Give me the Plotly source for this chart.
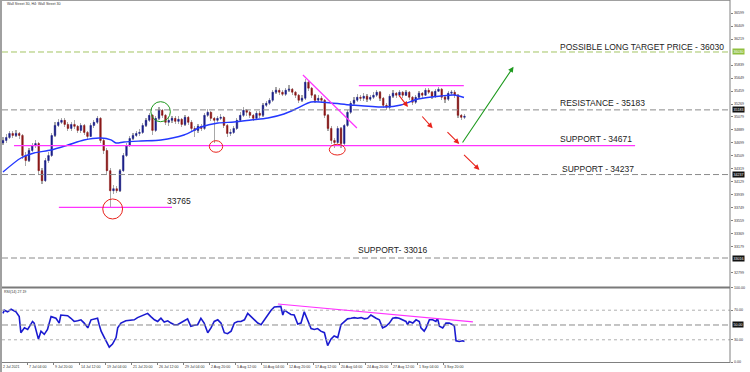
import plotly.graph_objects as go

# ---------------- data ----------------
title_text = "Wall Street 30, H4: Wall Street 30"
rsi_label = "RSI(14) 27.19"

opens = [34700,34736,34780,34839,34809,34839,34809,34515,34441,34589,
         34662,34691,34294,34147,34441,34515,34809,34956,35001,35030,
         34971,34912,34971,34942,34883,34956,34853,34795,34956,35001,
         35059,34736,34589,34294,34000,34030,34000,34294,34515,34662,
         34765,34809,34839,34853,34956,35030,35103,34883,35059,35177,
         35103,35001,35030,35059,35015,35045,34971,35074,35001,34912,
         34883,34942,34912,35103,35148,35059,35030,35059,35074,34956,
         34839,34853,34912,35030,35103,35177,35148,35103,35059,35133,
         35103,35250,35280,35324,35442,35471,35442,35412,35471,35486,
         35442,35398,35324,35353,35589,35501,35398,35324,35353,35324,
         35103,34912,34736,34706,34912,34691,34956,35148,35280,35324,
         35368,35353,35383,35339,35368,35398,35442,35353,35250,35221,
         35383,35427,35398,35442,35398,35442,35368,35295,35368,35427,
         35398,35471,35442,35383,35456,35486,35368,35339,35427,35442,
         35398,35103,35074]
highs = [34790,34830,34880,34870,34890,34860,34830,34560,34620,34700,
         34740,34720,34330,34480,34560,34840,35000,35050,35070,35060,
         35000,35010,35040,34960,34990,34980,34880,34990,35040,35090,
         35074,34760,34620,34330,34080,34070,34320,34550,34700,34800,
         34850,34880,34900,34990,35070,35140,35120,35090,35221,35200,
         35130,35080,35100,35090,35090,35070,35110,35100,35030,34950,
         34980,34970,35140,35190,35170,35080,35100,35120,35090,34980,
         34900,34950,35060,35150,35230,35200,35170,35130,35170,35160,
         35290,35320,35360,35480,35520,35500,35470,35510,35540,35510,
         35460,35420,35400,35633,35610,35520,35420,35400,35380,35340,
         35130,34940,34770,34950,34930,34980,35180,35320,35370,35410,
         35400,35430,35410,35400,35440,35480,35460,35370,35280,35420,
         35470,35450,35480,35460,35480,35460,35390,35400,35460,35450,
         35510,35500,35460,35490,35520,35500,35400,35460,35480,35470,
         35410,35130,35120]
lows = [34670,34700,34760,34770,34780,34760,34470,34368,34420,34560,
        34630,34250,34100,34130,34400,34490,34790,34930,34970,34930,
        34870,34880,34900,34840,34850,34810,34760,34780,34920,34980,
        34700,34540,34250,33750,33950,33960,33980,34270,34490,34640,
        34740,34780,34800,34830,34930,35000,34809,34860,35030,35060,
        34960,34950,34990,34970,34980,34930,34950,34960,34870,34790,
        34850,34870,34890,35080,35020,34700,35000,35030,34920,34790,
        34800,34830,34890,35000,35080,35100,35060,35020,35040,35070,
        35080,35220,35260,35300,35420,35400,35380,35390,35440,35400,
        35360,35280,35300,35330,35460,35360,35280,35300,35280,35060,
        34870,34690,34620,34680,34620,34670,34930,35120,35250,35300,
        35310,35320,35300,35310,35340,35370,35310,35210,35180,35200,
        35360,35360,35370,35360,35380,35330,35250,35270,35340,35360,
        35380,35410,35340,35360,35440,35330,35290,35320,35400,35360,
        35060,35040,35050]
closes = [34736,34780,34839,34809,34839,34809,34515,34441,34589,34662,
          34691,34294,34147,34441,34515,34809,34956,35001,35030,34971,
          34912,34971,34942,34883,34956,34853,34795,34956,35001,35059,
          34736,34589,34294,34000,34030,34000,34294,34515,34662,34765,
          34809,34839,34853,34956,35030,35103,34883,35059,35177,35103,
          35001,35030,35059,35015,35045,34971,35074,35001,34912,34883,
          34942,34912,35103,35148,35059,35030,35059,35074,34956,34839,
          34853,34912,35030,35103,35177,35148,35103,35059,35133,35103,
          35250,35280,35324,35442,35471,35442,35412,35471,35486,35442,
          35398,35324,35353,35589,35501,35398,35324,35353,35324,35103,
          34912,34736,34706,34912,34691,34956,35148,35280,35324,35368,
          35353,35383,35339,35368,35398,35442,35353,35250,35221,35383,
          35427,35398,35442,35398,35442,35368,35295,35368,35427,35398,
          35471,35442,35383,35456,35486,35368,35339,35427,35442,35398,
          35103,35074,35089]
bar_idx = list(range(len(closes)))

ma_x = [0, 5.54, 9.54, 14.77, 20, 24.92, 30.15, 33.23, 34.77, 37.23, 42.46, 48.62,
        55.69, 60.92, 66.15, 71.08, 76.31, 81.54, 86.46, 90.77, 94.77, 100.92,
        107.08, 117.23, 122.46, 127.69, 134.77, 138.77, 141.85]
ma_y = [34274, 34479, 34552, 34596, 34669, 34743, 34772, 34743, 34699, 34713, 34728, 34743,
        34816, 34933, 34991, 35006, 35035, 35065, 35123, 35211, 35299, 35284,
        35255, 35225, 35255, 35342, 35386, 35401, 35364]

rsi_x = [0, 0.4, 1.4, 2.5, 4.0, 5.0, 5.5, 6.6, 7.6, 9.1,
         9.6, 10.2, 10.9, 11.7, 12.7, 13.7, 14.8, 16.3, 17.3, 17.8,
         19.9, 20.9, 21.9, 23.0, 24.0, 25.0, 26.1, 27.1, 28.1, 29.1,
         29.6, 30.2, 31.2, 32.2, 32.7, 33.7, 34.8, 35.3, 35.8, 36.3,
         37.8, 39.4, 40.4, 41.4, 43.5, 44.5, 45.5, 46.6, 47.6, 48.6,
         49.6, 50.7, 51.7, 52.7, 53.7, 54.8, 55.8, 56.8, 57.8, 58.9,
         59.9, 60.9, 61.9, 63.0, 64.0, 65.0, 66.1, 67.1, 68.1, 69.1,
         70.2, 71.2, 72.2, 73.2, 74.3, 75.3, 76.3, 77.3, 78.4, 79.4,
         80.4, 81.4, 82.5, 83.5, 84.5, 85.5, 86.1, 86.6, 87.6, 88.6,
         89.6, 90.7, 91.7, 92.7, 93.7, 94.8, 95.8, 96.8, 97.8, 98.9,
         99.9, 100.4, 100.9, 101.9, 103.0, 104.0, 105.0, 106.0, 107.1, 108.1,
         109.1, 110.2, 111.2, 112.2, 113.2, 114.3, 114.8, 115.8, 116.8, 117.8,
         118.9, 119.9, 120.9, 121.9, 123.0, 124.0, 124.5, 125.0, 126.1, 127.1,
         128.1, 128.6, 129.6, 130.2, 131.2, 132.2, 133.2, 133.7, 134.3, 135.3,
         136.3, 137.3, 138.4, 138.9, 139.4, 140.4, 141.5, 142.0]
rsi_y = [65.7, 70.0, 67.8, 71.3, 67.8, 61.3, 39.6, 46.1, 43.9, 54.8,
         52.6, 43.9, 30.9, 41.7, 37.4, 43.9, 61.3, 59.1, 52.6, 63.5,
         62.6, 59.1, 54.8, 55.7, 57.0, 52.6, 46.1, 57.0, 58.3, 59.1,
         50.4, 41.7, 33.0, 24.3, 20.0, 24.3, 33.0, 46.1, 50.4, 52.6,
         55.7, 57.0, 57.0, 60.0, 63.5, 65.7, 61.3, 57.0, 54.8, 59.1,
         53.9, 55.7, 52.6, 50.4, 50.4, 52.6, 55.7, 58.3, 48.3, 49.6,
         50.4, 59.1, 52.6, 39.6, 46.1, 54.8, 57.0, 52.6, 39.6, 38.3,
         41.7, 52.6, 54.8, 54.8, 57.0, 65.7, 61.3, 57.0, 52.6, 50.4,
         57.0, 63.5, 70.0, 74.3, 74.3, 75.2, 63.5, 70.0, 67.0, 64.3,
         63.5, 51.3, 52.6, 67.8, 57.0, 45.2, 43.9, 45.2, 41.7, 39.6,
         22.2, 26.5, 30.9, 35.2, 33.0, 50.4, 54.8, 58.3, 59.1, 60.0,
         59.1, 60.0, 58.3, 59.1, 63.5, 60.0, 59.1, 57.0, 46.1, 48.3,
         52.6, 59.1, 60.0, 59.1, 57.0, 54.8, 50.4, 54.8, 52.6, 57.0,
         54.8, 46.1, 41.7, 46.1, 57.0, 57.0, 54.8, 59.1, 48.3, 46.1,
         52.6, 52.6, 50.4, 48.3, 28.7, 27.8, 28.7, 27.8]

date_labels = ["2 Jul 2021", "7 Jul 04:00", "9 Jul 20:00", "14 Jul 12:00", "19 Jul 04:00",
               "21 Jul 20:00", "26 Jul 12:00", "29 Jul 04:00", "2 Aug 20:00", "5 Aug 12:00",
               "10 Aug 04:00", "12 Aug 20:00", "17 Aug 12:00", "20 Aug 04:00", "24 Aug 20:00",
               "27 Aug 12:00", "1 Sep 04:00", "3 Sep 20:00"]

price_ticks = [36599, 36409, 36219, 35839, 35649, 35459, 35269, 35079, 34889, 34699,
               34509, 34319, 34129, 33939, 33749, 33559, 33369, 33179, 32799]
rsi_ticks = [100, 70, 30, 0]

target_level = 36030
resistance_level = 35183
support1_level = 34671
support2_level = 34237
support3_level = 33016
low_level = 33765
rsi_mid_level = 50

# ---------------- styling / geometry ----------------
W, H = 750, 372
ML, MR, MT, MB = 2, 20, 1, 10
def px(x):
    return (x - ML) / (W - ML - MR)
def py(y):
    return (H - MB - y) / (H - MT - MB)

XR = [-0.3, 223.7]
UP = "#1c2088"
DN = "#8a1818"
WICK = "#a8a8a8"
MAG = "#ff33ff"
RED = "#e8231c"
GRN = "#1f9a1f"
GRAY = "#8a8a8a"
TXT = "#222222"
FONT = "Liberation Sans, Arial, sans-serif"
SMALL = 3.6

fig = go.Figure()

# wicks
fig.add_trace(go.Bar(
    x=bar_idx, y=[h - l for h, l in zip(highs, lows)], base=lows, width=0.32,
    marker=dict(color=WICK, line=dict(width=0)), xaxis="x", yaxis="y", hoverinfo="skip"))
# bodies
fig.add_trace(go.Candlestick(
    x=bar_idx, open=opens, close=closes,
    high=[max(o, c) for o, c in zip(opens, closes)],
    low=[min(o, c) for o, c in zip(opens, closes)],
    increasing=dict(line=dict(color=UP, width=0.5), fillcolor=UP),
    decreasing=dict(line=dict(color=DN, width=0.5), fillcolor=DN),
    whiskerwidth=0, xaxis="x", yaxis="y", hoverinfo="skip"))
# moving average
fig.add_trace(go.Scatter(
    x=ma_x, y=ma_y, mode="lines", line=dict(color="#2438ff", width=1.4, shape="spline", smoothing=0.8),
    xaxis="x", yaxis="y", hoverinfo="skip"))
# RSI
fig.add_trace(go.Scatter(
    x=rsi_x, y=rsi_y, mode="lines", line=dict(color="#1a1ad0", width=1.6),
    xaxis="x2", yaxis="y2", hoverinfo="skip"))

shapes = []
def hline(level, color, dash, width=1, yref="y", x0=0, x1=1, xref="paper"):
    shapes.append(dict(type="line", xref=xref, yref=yref, x0=x0, x1=x1, y0=level, y1=level,
                       line=dict(color=color, width=width, dash=dash)))

hline(target_level, "#a3c464", "6px,3px")
hline(resistance_level, GRAY, "6px,3px")
hline(support2_level, GRAY, "6px,3px")
hline(support3_level, GRAY, "6px,3px")
hline(34660, MAG, "solid", 1.3, xref="x", x0=3.4, x1=194.5)
hline(33758, MAG, "solid", 1.3, xref="x", x0=17.2, x1=52.0)
hline(35537, MAG, "solid", 1.3, xref="x", x0=109.5, x1=141.8)
# diagonal trend line
shapes.append(dict(type="line", xref="x", yref="y", x0=92.3, y0=35694, x1=108.9, y1=34918,
                   line=dict(color=MAG, width=1.2)))
# RSI levels
hline(70, "#b0b0b0", "dot", 1, yref="y2")
hline(30, "#b0b0b0", "dot", 1, yref="y2")
hline(rsi_mid_level, GRAY, "6px,3px", 1, yref="y2")
shapes.append(dict(type="line", xref="x2", yref="y2", x0=84.6, y0=78.4, x1=144.6, y1=54.1,
                   line=dict(color=MAG, width=1.2)))

# circles
def circ(x0, x1, y0, y1, color):
    shapes.append(dict(type="circle", xref="x", yref="y", x0=x0, x1=x1, y0=y0, y1=y1,
                       line=dict(color=color, width=1)))
circ(45.5, 51.5, 35010, 35303, GRN)
circ(30.7, 36.8, 33587, 33880, RED)
circ(63.5, 67.6, 34563, 34732, RED)
circ(100.4, 105.3, 34523, 34680, RED)

# frame
shapes.append(dict(type="rect", xref="paper", yref="paper", x0=px(0), x1=px(2), y0=py(372), y1=py(0),
                   fillcolor="#a0a0a0", line=dict(width=0)))
shapes.append(dict(type="line", xref="paper", yref="paper", x0=px(2), x1=px(730), y0=py(0.5), y1=py(0.5),
                   line=dict(color="#a0a0a0", width=1)))
shapes.append(dict(type="line", xref="paper", yref="paper", x0=px(730), x1=px(730), y0=py(0), y1=py(363),
                   line=dict(color="#808080", width=1)))
shapes.append(dict(type="line", xref="paper", yref="paper", x0=px(2), x1=px(730), y0=py(287.5), y1=py(287.5),
                   line=dict(color="#7a7a7a", width=2)))
shapes.append(dict(type="line", xref="paper", yref="paper", x0=px(2), x1=px(730), y0=py(362.5), y1=py(362.5),
                   line=dict(color="#808080", width=1)))

annotations = []
def text(x, y, s, size=8.5):
    annotations.append(dict(x=x, y=y, xref="x", yref="y", text=s, showarrow=False, xanchor="left",
                            yanchor="middle", font=dict(family=FONT, size=size, color=TXT)))
text(170.8, 36108, "POSSIBLE LONG TARGET PRICE - 36030")
text(170.8, 35277, "RESISTANCE - 35183")
text(170.8, 34757, "SUPPORT - 34671")
text(171.4, 34314, "SUPPORT - 34237")
text(108.5, 33133, "SUPPORT- 33016")
text(50.0, 33855, "33765")

def arrow(x0, y0, x1, y1, color):
    annotations.append(dict(x=x1, y=y1, ax=x0, ay=y0, xref="x", yref="y", axref="x", ayref="y",
                            text="", showarrow=True, arrowhead=2, arrowsize=1, arrowwidth=1.1,
                            arrowcolor=color))
arrow(121.5, 35416, 124.6, 35225, RED)
arrow(128.6, 35108, 132.2, 34914, RED)
arrow(136.3, 34879, 140.4, 34684, RED)
arrow(141.4, 34548, 146.6, 34304, RED)
arrow(141.1, 34684, 157.1, 35815, GRN)

# small labels
small = dict(family=FONT, size=SMALL, color="#333333")
annotations.append(dict(x=px(6), y=py(4), xref="paper", yref="paper", text=title_text, showarrow=False,
                        xanchor="left", yanchor="middle", font=small, borderpad=0))
annotations.append(dict(x=px(3), y=py(291.5), xref="paper", yref="paper", text=rsi_label, showarrow=False,
                        xanchor="left", yanchor="middle", font=small, borderpad=0))
for k, lab in enumerate(date_labels):
    annotations.append(dict(x=px(1.5 + 26 * k), y=py(366.5), xref="paper", yref="paper", text=lab,
                            showarrow=False, xanchor="left", yanchor="middle", font=small, borderpad=0))

def axlabel(level, yref, s):
    annotations.append(dict(x=px(733), y=level, xref="paper", yref=yref, text=s, showarrow=False,
                            xanchor="left", yanchor="middle", borderpad=0, font=small))
for v in price_ticks:
    axlabel(v, "y", str(v))
for v in rsi_ticks:
    axlabel(v, "y2", "%.2f" % v)

def tag(level, yref, s, bg):
    annotations.append(dict(x=px(731.5), y=level, xref="paper", yref=yref, text=s, showarrow=False,
                            xanchor="left", yanchor="middle", bgcolor=bg, borderpad=0.6,
                            font=dict(family=FONT, size=SMALL, color="white")))
tag(target_level, "y", str(target_level), "#8fbf3f")
tag(resistance_level, "y", str(resistance_level), "#111111")
tag(support2_level, "y", str(support2_level), "#111111")
tag(support3_level, "y", str(support3_level), "#111111")
tag(rsi_mid_level, "y2", "50.00", "#111111")

fig.update_layout(
    width=W, height=H, margin=dict(l=ML, r=MR, t=MT, b=MB, autoexpand=False),
    paper_bgcolor="white", plot_bgcolor="white", showlegend=False,
    barmode="overlay", bargap=0, hovermode=False,
    shapes=shapes, annotations=annotations,
    xaxis=dict(domain=[0, 1], range=XR, anchor="y", showticklabels=False, showgrid=False,
               zeroline=False, showline=False, ticks="", rangeslider=dict(visible=False)),
    xaxis2=dict(domain=[0, 1], range=XR, anchor="y2", showgrid=False, zeroline=False, showline=False,
                tickvals=[8 * k - 0.6 for k in range(len(date_labels))], ticks="outside", ticklen=2,
                tickcolor="#808080", showticklabels=False),
    yaxis=dict(domain=[0.2078, 1], range=[32592, 36776], side="right", anchor="x",
               tickvals=price_ticks, ticks="outside", showticklabels=False,
               ticklen=2, tickcolor="#808080", showgrid=False, zeroline=False, showline=False),
    yaxis2=dict(domain=[0, 0.205], range=[0, 100], side="right", anchor="x2",
                tickvals=rsi_ticks, ticks="outside", showticklabels=False,
                ticklen=2, tickcolor="#808080", showgrid=False, zeroline=False, showline=False),
)

fig.write_html("out.html", config={"displayModeBar": False, "staticPlot": True},
               post_script="document.body.style.margin='0';document.body.style.padding='0';")
